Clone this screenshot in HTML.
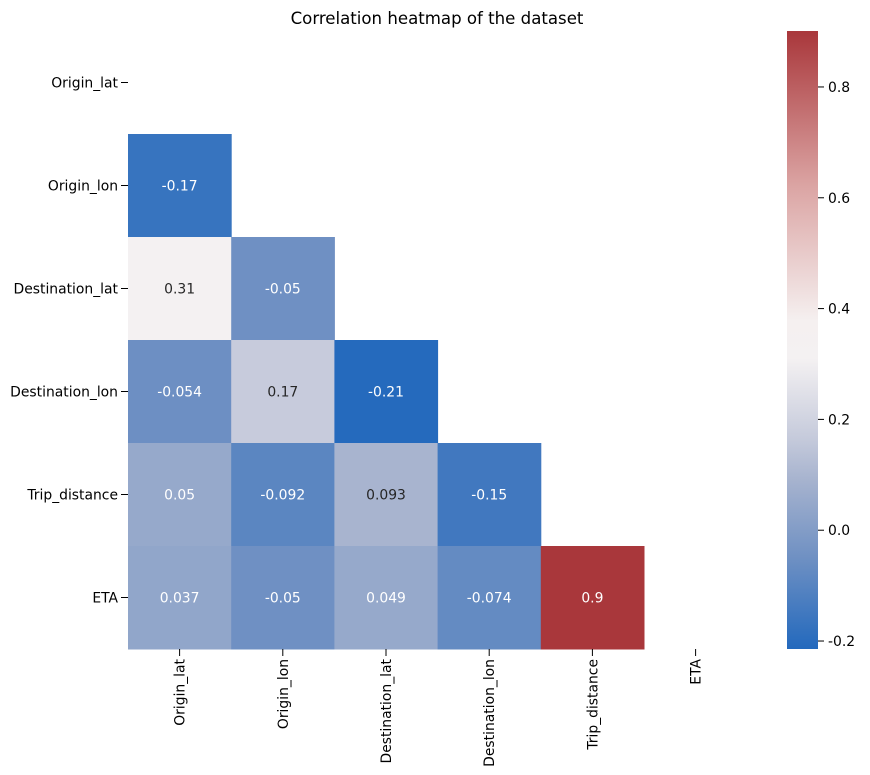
<!DOCTYPE html>
<html><head><meta charset="utf-8">
<style>
html,body{margin:0;padding:0;background:#fff;}
svg{display:block;font-family:"DejaVu Sans","Liberation Sans",sans-serif;}
</style></head>
<body>
<svg id="chart" width="870" height="775" viewBox="0 0 870 775">
<defs>
<linearGradient id="cbgrad" x1="0" y1="1" x2="0" y2="0">
<stop offset="0" stop-color="rgb(35,105,189)"/>
<stop offset="0.15" stop-color="rgb(112,145,195)"/>
<stop offset="0.27" stop-color="rgb(165,178,206)"/>
<stop offset="0.34" stop-color="rgb(197,202,219)"/>
<stop offset="0.47" stop-color="rgb(244,241,242)"/>
<stop offset="0.53" stop-color="rgb(245,240,240)"/>
<stop offset="0.75" stop-color="rgb(219,164,163)"/>
<stop offset="1" stop-color="rgb(169,55,59)"/>
</linearGradient>
</defs>
<text x="437" y="24" font-size="16.6" text-anchor="middle" fill="#000">Correlation heatmap of the dataset</text>
<g id="cells"></g>
<g id="axes"></g>
<rect x="787" y="31" width="31" height="618" fill="url(#cbgrad)"/>
<g id="cbticks"></g>
</svg>
<script>
const labels = ["Origin_lat","Origin_lon","Destination_lat","Destination_lon","Trip_distance","ETA"];
const row1 = [-0.17];
const row2 = [0.31, -0.05];
const row3 = [-0.054, 0.17, -0.21];
const row4 = [0.05, -0.092, 0.093, -0.15];
const row5 = [0.037, -0.05, 0.049, -0.074, 0.9];
const cellText = [["-0.17"],["0.31","-0.05"],["-0.054","0.17","-0.21"],["0.05","-0.092","0.093","-0.15"],["0.037","-0.05","0.049","-0.074","0.9"]];
const cbTicks = [-0.2, 0.0, 0.2, 0.4, 0.6, 0.8];
const cbTickLabels = ["-0.2","0.0","0.2","0.4","0.6","0.8"];
const vmin = -0.2144, vmax = 0.901;

const NS = "http://www.w3.org/2000/svg";
const FS = 13.9;
const x0 = 128, y0 = 31, cw = 103.2, ch = 103;
const xPos = i => x0 + i*cw;
const yPos = i => y0 + i*ch;
const cbY = v => 649 - (v - vmin)/(vmax - vmin)*618;
const stops = [[0,[35,105,189]],[0.15,[112,145,195]],[0.27,[165,178,206]],[0.34,[197,202,219]],[0.47,[244,241,242]],[0.53,[245,240,240]],[0.75,[219,164,163]],[1,[169,55,59]]];
function color(v){
  let t = Math.max(0, Math.min(1, (v - vmin)/(vmax - vmin)));
  for(let i=0;i<stops.length-1;i++){
    const [a,ca]=stops[i],[b,cb]=stops[i+1];
    if(t<=b){const f=(t-a)/(b-a);return ca.map((c,k)=>Math.round(c+(cb[k]-c)*f));}
  }
  return stops[stops.length-1][1];
}
function el(tag, attrs, parent){const e=document.createElementNS(NS,tag);for(const k in attrs)e.setAttribute(k,attrs[k]);parent.appendChild(e);return e;}
const rows = [row1,row2,row3,row4,row5];
const cells = document.getElementById('cells');
rows.forEach((r, ri) => {
  const row = ri + 1;
  r.forEach((v, col) => {
    const c = color(v);
    const rect = el('rect',{x:xPos(col),y:yPos(row),width:cw+0.5,height:ch+0.5,fill:`rgb(${c[0]},${c[1]},${c[2]})`},cells);
    
    
    const lum = 0.299*c[0]+0.587*c[1]+0.114*c[2];
    const t = el('text',{x:xPos(col)+cw/2,y:yPos(row)+ch/2+5,'font-size':FS,'text-anchor':'middle',fill: lum>172?'#262626':'#fff'},cells);
    t.textContent = cellText[ri][col];
    
    
  });
});
const axes = document.getElementById('axes');
labels.forEach((lab, i) => {
  const yc = yPos(i)+ch/2;
  el('line',{x1:121,x2:128,y1:yc,y2:yc,stroke:'#000','stroke-width':1},axes);
  const t = el('text',{x:118,y:yc+5,'font-size':FS,'text-anchor':'end',fill:'#000'},axes);
  t.textContent = lab;
  
  
  const xc = xPos(i)+cw/2;
  el('line',{x1:xc,x2:xc,y1:649,y2:656,stroke:'#000','stroke-width':1},axes);
  const tx = el('text',{x:0,y:0,'font-size':FS,'text-anchor':'end',fill:'#000',transform:`translate(${xc+5},659) rotate(-90)`},axes);
  tx.textContent = lab;
  
  
});
const cbt = document.getElementById('cbticks');
cbTicks.forEach((v, i) => {
  const y = cbY(v);
  el('line',{x1:818,x2:824,y1:y,y2:y,stroke:'#000','stroke-width':1},cbt);
  const t = el('text',{x:828,y:y+5,'font-size':FS,fill:'#000'},cbt);
  t.textContent = cbTickLabels[i];
  
  
});
</script>
</body></html>
